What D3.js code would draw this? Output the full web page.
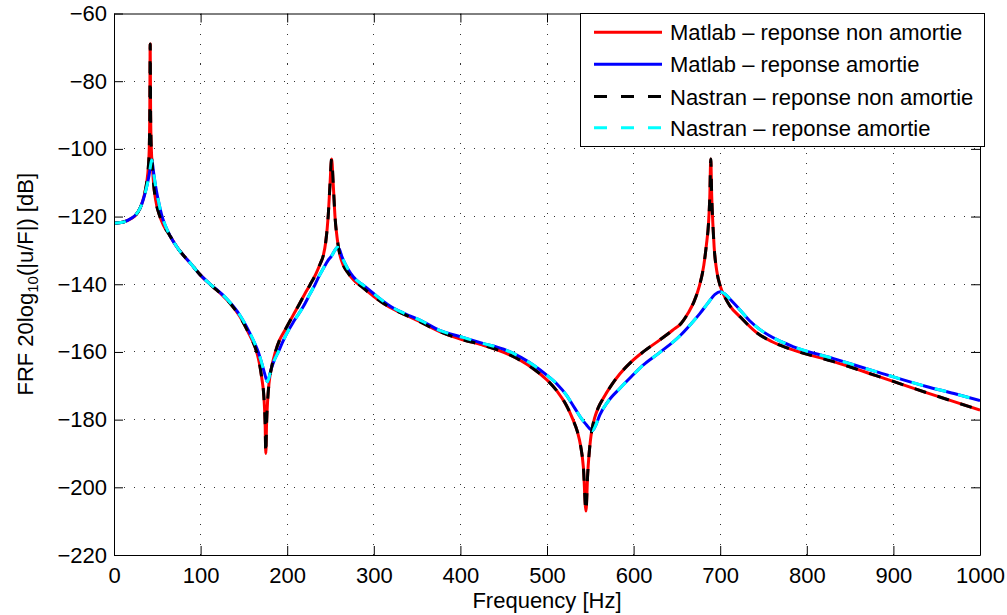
<!DOCTYPE html>
<html>
<head>
<meta charset="utf-8">
<script src="https://cdn.jsdelivr.net/npm/d3@7"></script>
<style>
  html, body { margin: 0; padding: 0; background: #fff; }
  svg { display: block; font-family: "Liberation Sans", Arial, Helvetica, sans-serif; }
</style>
</head>
<body>
<svg id="chart" width="1007" height="615"></svg>
<script>
// ---------- DATA ----------
const xTicks = [0, 100, 200, 300, 400, 500, 600, 700, 800, 900, 1000];
const yTicks = [-220, -200, -180, -160, -140, -120, -100, -80, -60];

const legendLabels = [
  "Matlab \u2013 reponse non amortie",
  "Matlab \u2013 reponse amortie",
  "Nastran \u2013 reponse non amortie",
  "Nastran \u2013 reponse amortie"
];

// undamped response (Hz, dB)
const freqUndamped = [0,10,20,25,30,33,36,38,39.6,40.7,41.3,41.8,42.3,43.1,44.3,45.6,48,53,57,63,74,88,101,114,125,134,145,155,160,165,168,170.5,173,174.5,175.3,176.2,177.5,179,182,186,191,198,205,212,220,226.3,233,238,241.7,244.5,247.3,249.4,251.3,253.2,255.2,258,261,265,270.6,277,284,300,315,330,349.5,376,400,425,450,470,485,500,512,522,530,535,539,542,545,547,548.5,550,552,555,559,565,575,584,597,611,630,645,655,663,670,676,681,684,686.5,688,689.1,690.2,691.5,693,696,700,705,711,722.9,742,760,784,830,880,938,970,1000];
const dbUndamped = [-122,-121.7,-120.6,-119.6,-117.6,-115.5,-112.5,-109.5,-105.5,-100,-90,-69,-90,-100,-105,-110,-115,-120,-122.5,-125,-129.5,-133.7,-137.6,-140.7,-143.2,-145.6,-149.4,-154.2,-156.8,-160.2,-163.5,-167.5,-173,-181,-190,-181,-174,-169.3,-164.5,-160.3,-156.6,-153.3,-150,-146.8,-143,-140.2,-137,-134,-131.5,-127.5,-120,-110.6,-103,-110.6,-120,-127,-131.5,-134.5,-136.8,-138.8,-140.3,-143.6,-146.3,-148.3,-150.6,-154,-156.2,-157.9,-160.1,-162.6,-165.1,-168.3,-171.7,-175.6,-180,-183.5,-188,-194,-207,-196,-190.5,-186.5,-182.8,-179.5,-176.6,-173.7,-169.6,-166.5,-163,-160,-156.5,-153.6,-151.5,-148.5,-145,-140.5,-134.5,-128.5,-122,-114,-103,-114,-122,-129,-136,-140.5,-143.6,-146.3,-149.6,-154.3,-157,-159.4,-162.8,-167,-172,-174.7,-177.2];

// damped response (Hz, dB)
const freqDamped = [0,10,20,25,30,34,37,39,41,42.5,43.5,44.5,46,48,51,55,59,65,74,88,101,114,125,134,145,157,162,166.6,170,173,175.5,177,178.5,181,185,189.7,194,199,208,218.6,226,232,237,242,247,251.3,255,258,260.5,263,267,273.3,280,288,300,318.7,335,355,376,403,425,450,470,485,500,512,522,532,540,545.7,549,552.7,556,561,570,584,597,611,630,653.6,667,676.7,686,694,700,705,712,722.9,734,746,765,784,830,880,938,970,1000];
const dbDamped = [-122,-121.7,-120.5,-119.5,-117.6,-114.8,-112,-109.8,-107,-104.5,-103.3,-104.5,-107.5,-111,-115,-119.5,-122.5,-125.8,-129.5,-133.7,-137.6,-140.6,-143,-145.4,-149,-154.5,-157.2,-160,-162.8,-165.5,-167.8,-168.8,-168,-165.5,-162.5,-160,-157.5,-154.8,-150.8,-146.6,-143,-140.2,-137.5,-135.2,-133,-131.6,-130,-129.1,-129.8,-131.7,-134,-136.8,-138.8,-140.3,-142.8,-146.4,-148.6,-150.8,-153.6,-155.7,-157.4,-159.2,-161.6,-164,-166.9,-169.6,-172.6,-176.6,-179.8,-181.6,-182.6,-183.2,-181.8,-178.6,-174.8,-170.8,-167.4,-163.9,-160.2,-155.2,-151.5,-148.6,-145.5,-143,-142.2,-142.8,-144.6,-147.6,-150.8,-153.4,-156.3,-158.4,-161.9,-165.8,-170.2,-172.3,-174.4];

// ---------- LAYOUT ----------
const svg = d3.select("#chart");
const plot = { left: 114, right: 980, top: 13.5, bottom: 555 };

const x = d3.scaleLinear().domain([0, 1000]).range([plot.left, plot.right]);
const y = d3.scaleLinear().domain([-220, -60]).range([plot.bottom, plot.top]);

const FONT = 22;

// grid
const grid = svg.append("g").attr("class", "grid");
xTicks.slice(1, -1).forEach(t => {
  grid.append("line")
    .attr("x1", x(t)).attr("x2", x(t))
    .attr("y1", plot.top).attr("y2", plot.bottom)
    .attr("stroke", "#333").attr("stroke-width", 1)
    .attr("stroke-dasharray", "1,9").attr("shape-rendering", "crispEdges");
});
yTicks.slice(1, -1).forEach(t => {
  grid.append("line")
    .attr("x1", plot.left).attr("x2", plot.right)
    .attr("y1", y(t)).attr("y2", y(t))
    .attr("stroke", "#333").attr("stroke-width", 1)
    .attr("stroke-dasharray", "1,9").attr("shape-rendering", "crispEdges");
});

// axes (box with inward ticks on all sides)
const tickLen = 9;
const fmt = v => (v < 0 ? "\u2212" + Math.abs(v) : String(v));

const axB = d3.axisBottom(x).tickValues(xTicks).tickSizeInner(-tickLen).tickSizeOuter(0).tickPadding(12).tickFormat(fmt);
const axT = d3.axisTop(x).tickValues(xTicks).tickSizeInner(-tickLen).tickSizeOuter(0).tickFormat("");
const axL = d3.axisLeft(y).tickValues(yTicks).tickSizeInner(-tickLen).tickSizeOuter(0).tickPadding(7).tickFormat(fmt);
const axR = d3.axisRight(y).tickValues(yTicks).tickSizeInner(-tickLen).tickSizeOuter(0).tickFormat("");

function styleAxis(g) {
  g.selectAll("path.domain").attr("stroke", "#000").attr("stroke-width", 1);
  g.selectAll(".tick line").attr("stroke", "#000").attr("stroke-width", 1);
  g.selectAll(".tick text").attr("font-size", FONT).attr("fill", "#000")
    .attr("font-family", "Liberation Sans, Arial, sans-serif");
}

// clip for curves
svg.append("defs").append("clipPath").attr("id", "clip")
  .append("rect").attr("x", plot.left).attr("y", plot.top)
  .attr("width", plot.right - plot.left).attr("height", plot.bottom - plot.top);

// curves
const line = d3.line().x(d => x(d[0])).y(d => y(d[1])).curve(d3.curveMonotoneX);
const undamped = freqUndamped.map((f, i) => [f, dbUndamped[i]]);
const damped = freqDamped.map((f, i) => [f, dbDamped[i]]);

const series = [
  { data: undamped, color: "#ff0000", dash: null },
  { data: damped,   color: "#0000ff", dash: null },
  { data: undamped, color: "#000000", dash: "12,12" },
  { data: damped,   color: "#00ffff", dash: "12,12" }
];

const curves = svg.append("g").attr("clip-path", "url(#clip)");
series.forEach(s => {
  curves.append("path").datum(s.data)
    .attr("d", line)
    .attr("fill", "none")
    .attr("stroke", s.color)
    .attr("stroke-width", 3)
    .attr("stroke-linejoin", "round")
    .attr("stroke-dasharray", s.dash);
});

svg.append("g").attr("transform", `translate(0,${plot.bottom})`).call(axB).call(styleAxis);
svg.append("g").attr("transform", `translate(0,${plot.top})`).call(axT).call(styleAxis);
svg.append("g").attr("transform", `translate(${plot.left},0)`).call(axL).call(styleAxis);
svg.append("g").attr("transform", `translate(${plot.right},0)`).call(axR).call(styleAxis);

// axis labels
svg.append("text")
  .attr("x", (plot.left + plot.right) / 2).attr("y", 608)
  .attr("text-anchor", "middle").attr("font-size", FONT)
  .text("Frequency [Hz]");

const yl = svg.append("text")
  .attr("transform", `translate(33,${(plot.top + plot.bottom) / 2}) rotate(-90)`)
  .attr("text-anchor", "middle").attr("font-size", FONT);
yl.append("tspan").text("FRF 20log");
yl.append("tspan").attr("font-size", 15).attr("dy", 5).text("10");
yl.append("tspan").attr("dy", -5).text("(|u/F|) [dB]");

// legend
const lg = svg.append("g");
lg.append("rect")
  .attr("x", 580.5).attr("y", 13.5).attr("width", 404).attr("height", 133)
  .attr("fill", "#fff").attr("stroke", "#000").attr("stroke-width", 1);
const rowY = [32.3, 64.3, 96.5, 127.7];
legendLabels.forEach((lab, i) => {
  const s = series[i];
  lg.append("line")
    .attr("x1", 594).attr("x2", 662).attr("y1", rowY[i]).attr("y2", rowY[i])
    .attr("stroke", s.color).attr("stroke-width", 3)
    .attr("stroke-dasharray", s.dash ? "13,14" : null);
  lg.append("text")
    .attr("x", 670).attr("y", rowY[i] + 8)
    .attr("font-size", FONT).attr("textLength", null).text(lab);
});
</script>
</body>
</html>
